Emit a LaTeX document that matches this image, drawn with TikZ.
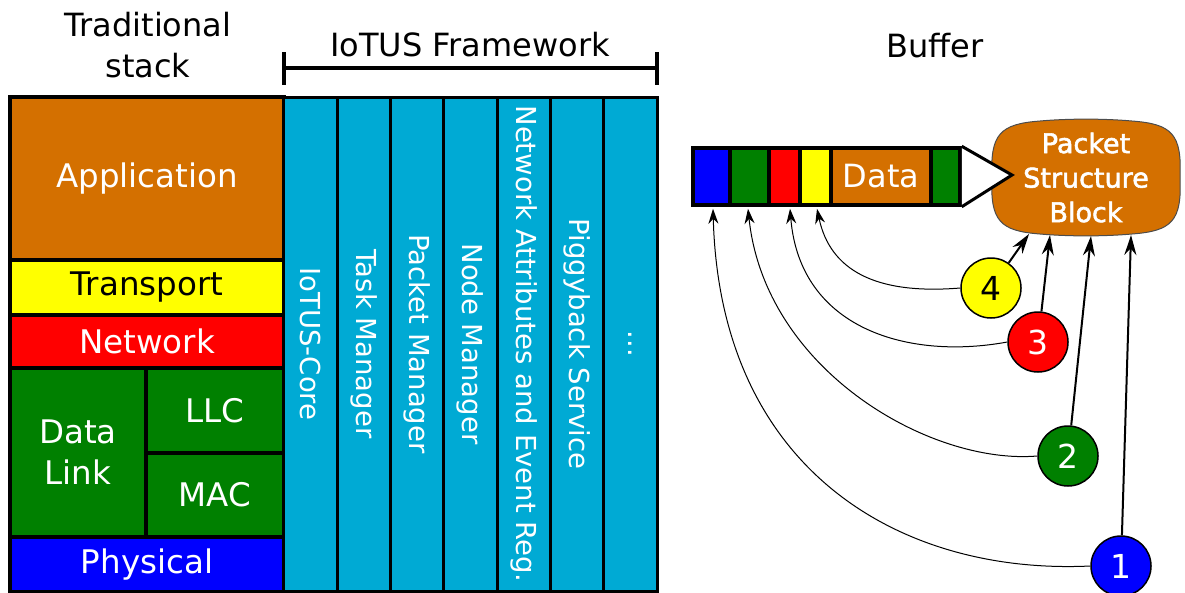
\documentclass[tikz,border=0pt]{standalone}
\usepackage{fontspec}
\setmainfont{DejaVu Sans}
\newfontfamily\psbfont[FakeBold=2]{DejaVu Sans}
\usetikzlibrary{arrows.meta}
\definecolor{corange}{RGB}{212,112,0}
\definecolor{cgreen}{RGB}{0,128,0}
\definecolor{ccyan}{RGB}{0,170,212}
\definecolor{cyellow}{RGB}{255,255,0}
\definecolor{cred}{RGB}{255,0,0}
\definecolor{cblue}{RGB}{0,0,255}
\begin{document}
\begin{tikzpicture}[x=1pt,y=-1pt,
  layer/.style={draw=black, line width=4pt, inner sep=0pt, text=white,
    font=\fontsize{32.5}{41}\selectfont, align=center},
  col/.style={draw=black, line width=3pt, fill=ccyan, inner sep=0pt, rotate=-90,
    minimum width=494pt, minimum height=53.3pt, text=white,
    font=\fontsize{27.5}{33}\selectfont},
  head/.style={inner sep=0pt, text=black, align=center,
    font=\fontsize{32}{41}\selectfont},
  cell/.style={draw=black, line width=3.5pt, inner sep=0pt, minimum height=57pt},
  psbstyle/.style={minimum width=188pt, minimum height=119pt, inner sep=0pt, text=white, align=center,
    font=\psbfont\fontsize{27}{34.5}\selectfont},
  psbshape/.style={draw=black!70, line width=1pt, fill=corange},
  circ/.style={circle, draw=black, line width=1.5pt, minimum size=60pt, inner sep=0pt,
    text=white, font=\fontsize{33}{40}\selectfont},
  bigarrow/.style={line width=2pt, -{Stealth[length=20pt,width=12pt]}},
  smallarrow/.style={line width=1pt, -{Stealth[length=15pt,width=10pt]}}
]
\useasboundingbox (0,0) rectangle (1185,592);

% headings
\node[head] (trad) at (148,45.5) {Traditional\\stack};
\node[head] (iotus) at (470,45) {IoTUS Framework};
\node[head] (buf) at (935,46) {Buffer};
\draw[line width=4pt] (284,52) -- (284,85) (284,68) -- (657,68) (657,52) -- (657,85);

% traditional stack
\node[layer, fill=corange, minimum width=274pt, minimum height=163pt] (app) at (147,178.5) {Application};
\node[layer, fill=cyellow, text=black, minimum width=274pt, minimum height=55pt] (trans) at (147,287.5) {Transport};
\node[layer, fill=cred, minimum width=274pt, minimum height=53pt] (net) at (147,341.5) {Network};
\node[layer, fill=cgreen, minimum width=136pt, minimum height=169pt] (dl) at (78,452.5) {Data\\Link};
\node[layer, fill=cgreen, minimum width=138pt, minimum height=85pt] (llc) at (215,410.5) {LLC};
\node[layer, fill=cgreen, minimum width=138pt, minimum height=84pt] (mac) at (215,495) {MAC};
\node[layer, fill=cblue, minimum width=274pt, minimum height=55pt] (phys) at (147,564.5) {Physical};

% IoTUS columns
\node[col] (k1) at (310.6,344) {IoTUS-Core};
\node[col] (k2) at (363.9,344) {Task Manager};
\node[col] (k3) at (417.2,344) {Packet Manager};
\node[col] (k4) at (470.5,344) {Node Manager};
\node[col] (k5) at (523.8,344) {Network Attributes and Event Reg.};
\node[col] (k6) at (577.1,344) {Piggyback Service};
\node[col] (k7) at (630.4,344) {...};

% packet structure block (bulged rounded shape)
\draw[psbshape] (992,177.5)
  .. controls (990,134) and (1000,124) .. (1040,121)
  .. controls (1068,118.5) and (1104,118.5) .. (1132,121)
  .. controls (1172,124) and (1182,134) .. (1180,177.5)
  .. controls (1182,221) and (1172,231) .. (1132,234)
  .. controls (1104,236.5) and (1068,236.5) .. (1040,234)
  .. controls (1000,231) and (990,221) .. cycle;
\node[psbstyle] (psb) at (1086,177.5) {Packet\\Structure\\Block};

% buffer
\node[cell, fill=cblue, minimum width=37pt] (b1) at (711.5,176.5) {};
\node[cell, fill=cgreen, minimum width=39pt] (b2) at (749.5,176.5) {};
\node[cell, fill=cred, minimum width=31pt] (b3) at (784.5,176.5) {};
\node[cell, fill=cyellow, minimum width=31pt] (b4) at (815.5,176.5) {};
\node[cell, fill=corange, minimum width=100pt, text=white, font=\fontsize{32}{38}\selectfont] (b5) at (881,176.5) {Data};
\node[cell, fill=cgreen, minimum width=29pt] (b6) at (945.5,176.5) {};
\coordinate (tip) at (1012,175);
\draw[line width=3pt, fill=white, line join=miter] (b6.north east) -- (tip) -- (b6.south east);

% numbered steps
\node[circ, fill=cyellow, text=black] (n4) at (991,288) {4};
\node[circ, fill=cred] (n3) at (1038,342) {3};
\node[circ, fill=cgreen] (n2) at (1068,456) {2};
\node[circ, fill=cblue] (n1) at (1121,566) {1};

\coordinate (p4) at (1029,234);
\coordinate (p3) at (1050,235);
\coordinate (p2) at (1091,236);
\coordinate (p1) at (1131,235);
\draw[bigarrow] (n4) -- (p4);
\draw[bigarrow] (n3) -- (p3);
\draw[bigarrow] (n2) -- (p2);
\draw[bigarrow] (n1) -- (p1);

\draw[smallarrow] (n4.west) .. controls (875,295) and (830,270) .. ([xshift=1.5pt,yshift=-2pt]b4.south);
\draw[smallarrow] (n3.west) .. controls (910,360) and (800,330) .. ([xshift=5.5pt,yshift=-2pt]b3.south);
\draw[smallarrow] (n2.west) .. controls (930,465) and (765,370) .. ([xshift=-1.5pt,yshift=-2pt]b2.south);
\draw[smallarrow] (n1.west) .. controls (900,575) and (720,470) .. ([xshift=1.5pt,yshift=-2pt]b1.south);
\end{tikzpicture}
\end{document}
